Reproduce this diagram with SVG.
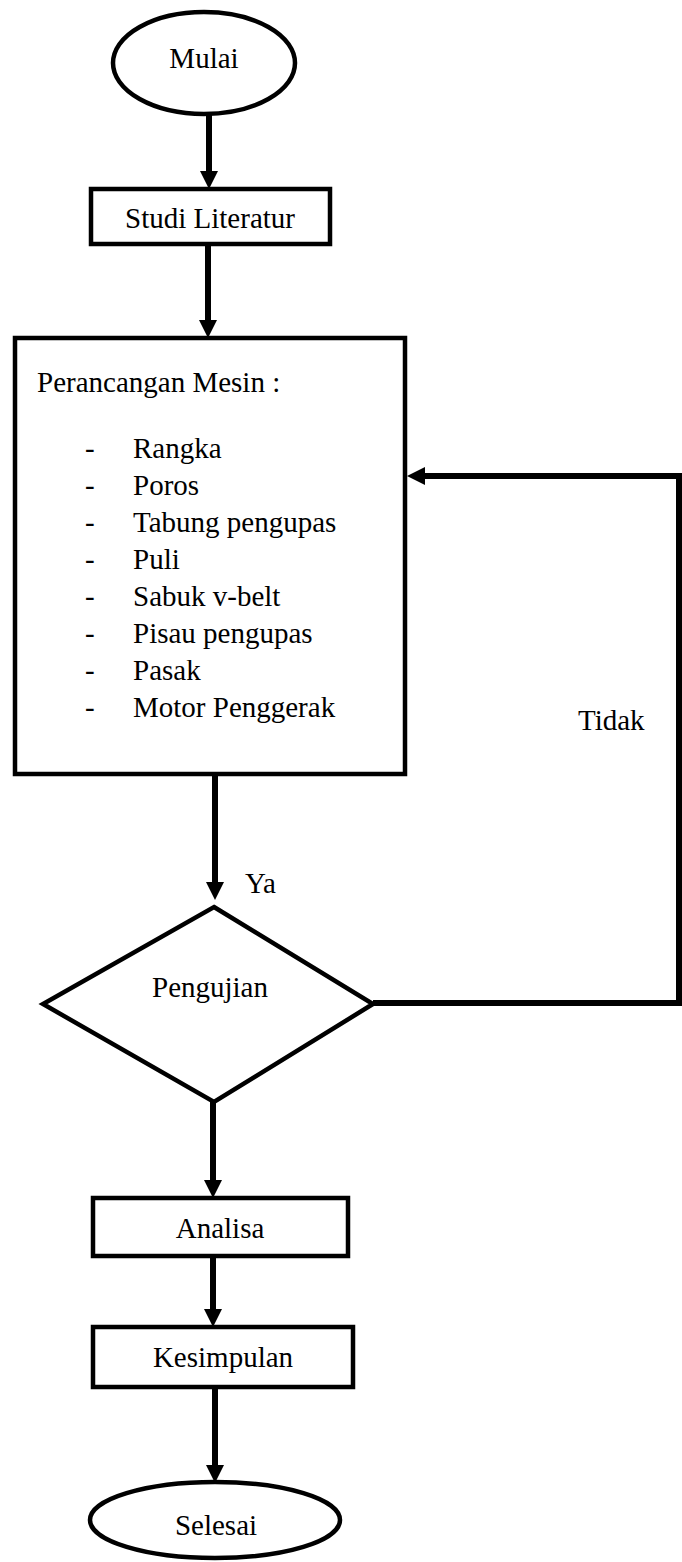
<svg xmlns="http://www.w3.org/2000/svg" width="682" height="1562" viewBox="0 0 682 1562">
  <style>
    .shape { fill: #ffffff; stroke: #000000; stroke-width: 4.5; }
    .conn { fill: none; stroke: #000000; stroke-width: 6; }
    .t { font-family: "Liberation Serif", "Times New Roman", serif; font-size: 29px; fill: #000000; }
    .c { text-anchor: middle; }
  </style>
  <defs>
    <marker id="arrow" viewBox="0 0 18 18" refX="9" refY="9" markerWidth="18" markerHeight="18" markerUnits="userSpaceOnUse" orient="auto">
      <path d="M0,0 L18,9 L0,18 z" fill="#000000"/>
    </marker>
  </defs>
  <rect width="682" height="1562" fill="#ffffff"/>

  <g id="connectors">
    <line class="conn" x1="209" y1="115" x2="209" y2="180" marker-end="url(#arrow)"/>
    <line class="conn" x1="208" y1="246" x2="208" y2="329" marker-end="url(#arrow)"/>
    <line class="conn" x1="215" y1="776" x2="215" y2="891" marker-end="url(#arrow)"/>
    <line class="conn" x1="213" y1="1102" x2="213" y2="1189" marker-end="url(#arrow)"/>
    <line class="conn" x1="213" y1="1258" x2="213" y2="1318" marker-end="url(#arrow)"/>
    <line class="conn" x1="215" y1="1389" x2="215" y2="1474" marker-end="url(#arrow)"/>
    <polyline class="conn" points="373,1003 679,1003 679,476 416,476" marker-end="url(#arrow)"/>
    <text class="t" x="245" y="893">Ya</text>
    <text class="t" x="578" y="730">Tidak</text>
  </g>

  <g id="mulai">
    <ellipse class="shape" cx="204" cy="63" rx="91" ry="51"/>
    <text class="t c" x="204" y="68">Mulai</text>
  </g>

  <g id="studi-literatur">
    <rect class="shape" x="91" y="189" width="239" height="55"/>
    <text class="t c" x="210" y="228">Studi Literatur</text>
  </g>

  <g id="perancangan">
    <rect class="shape" x="15" y="338" width="390" height="436"/>
    <text class="t" x="37" y="392">Perancangan Mesin :</text>
    <g class="t">
      <text x="85" y="458">-</text><text x="133" y="458">Rangka</text>
      <text x="85" y="495">-</text><text x="133" y="495">Poros</text>
      <text x="85" y="532">-</text><text x="133" y="532">Tabung pengupas</text>
      <text x="85" y="569">-</text><text x="133" y="569">Puli</text>
      <text x="85" y="606">-</text><text x="133" y="606">Sabuk v-belt</text>
      <text x="85" y="643">-</text><text x="133" y="643">Pisau pengupas</text>
      <text x="85" y="680">-</text><text x="133" y="680">Pasak</text>
      <text x="85" y="717">-</text><text x="133" y="717">Motor Penggerak</text>
    </g>
  </g>

  <g id="pengujian">
    <polygon class="shape" points="214,907 373,1004 214,1102 43,1004"/>
    <text class="t c" x="210" y="997">Pengujian</text>
  </g>

  <g id="analisa">
    <rect class="shape" x="93" y="1198" width="255" height="58"/>
    <text class="t c" x="220" y="1238">Analisa</text>
  </g>

  <g id="kesimpulan">
    <rect class="shape" x="93" y="1327" width="260" height="60"/>
    <text class="t c" x="223" y="1367">Kesimpulan</text>
  </g>

  <g id="selesai">
    <ellipse class="shape" cx="215" cy="1520" rx="125" ry="38"/>
    <text class="t c" x="216" y="1535">Selesai</text>
  </g>
</svg>
